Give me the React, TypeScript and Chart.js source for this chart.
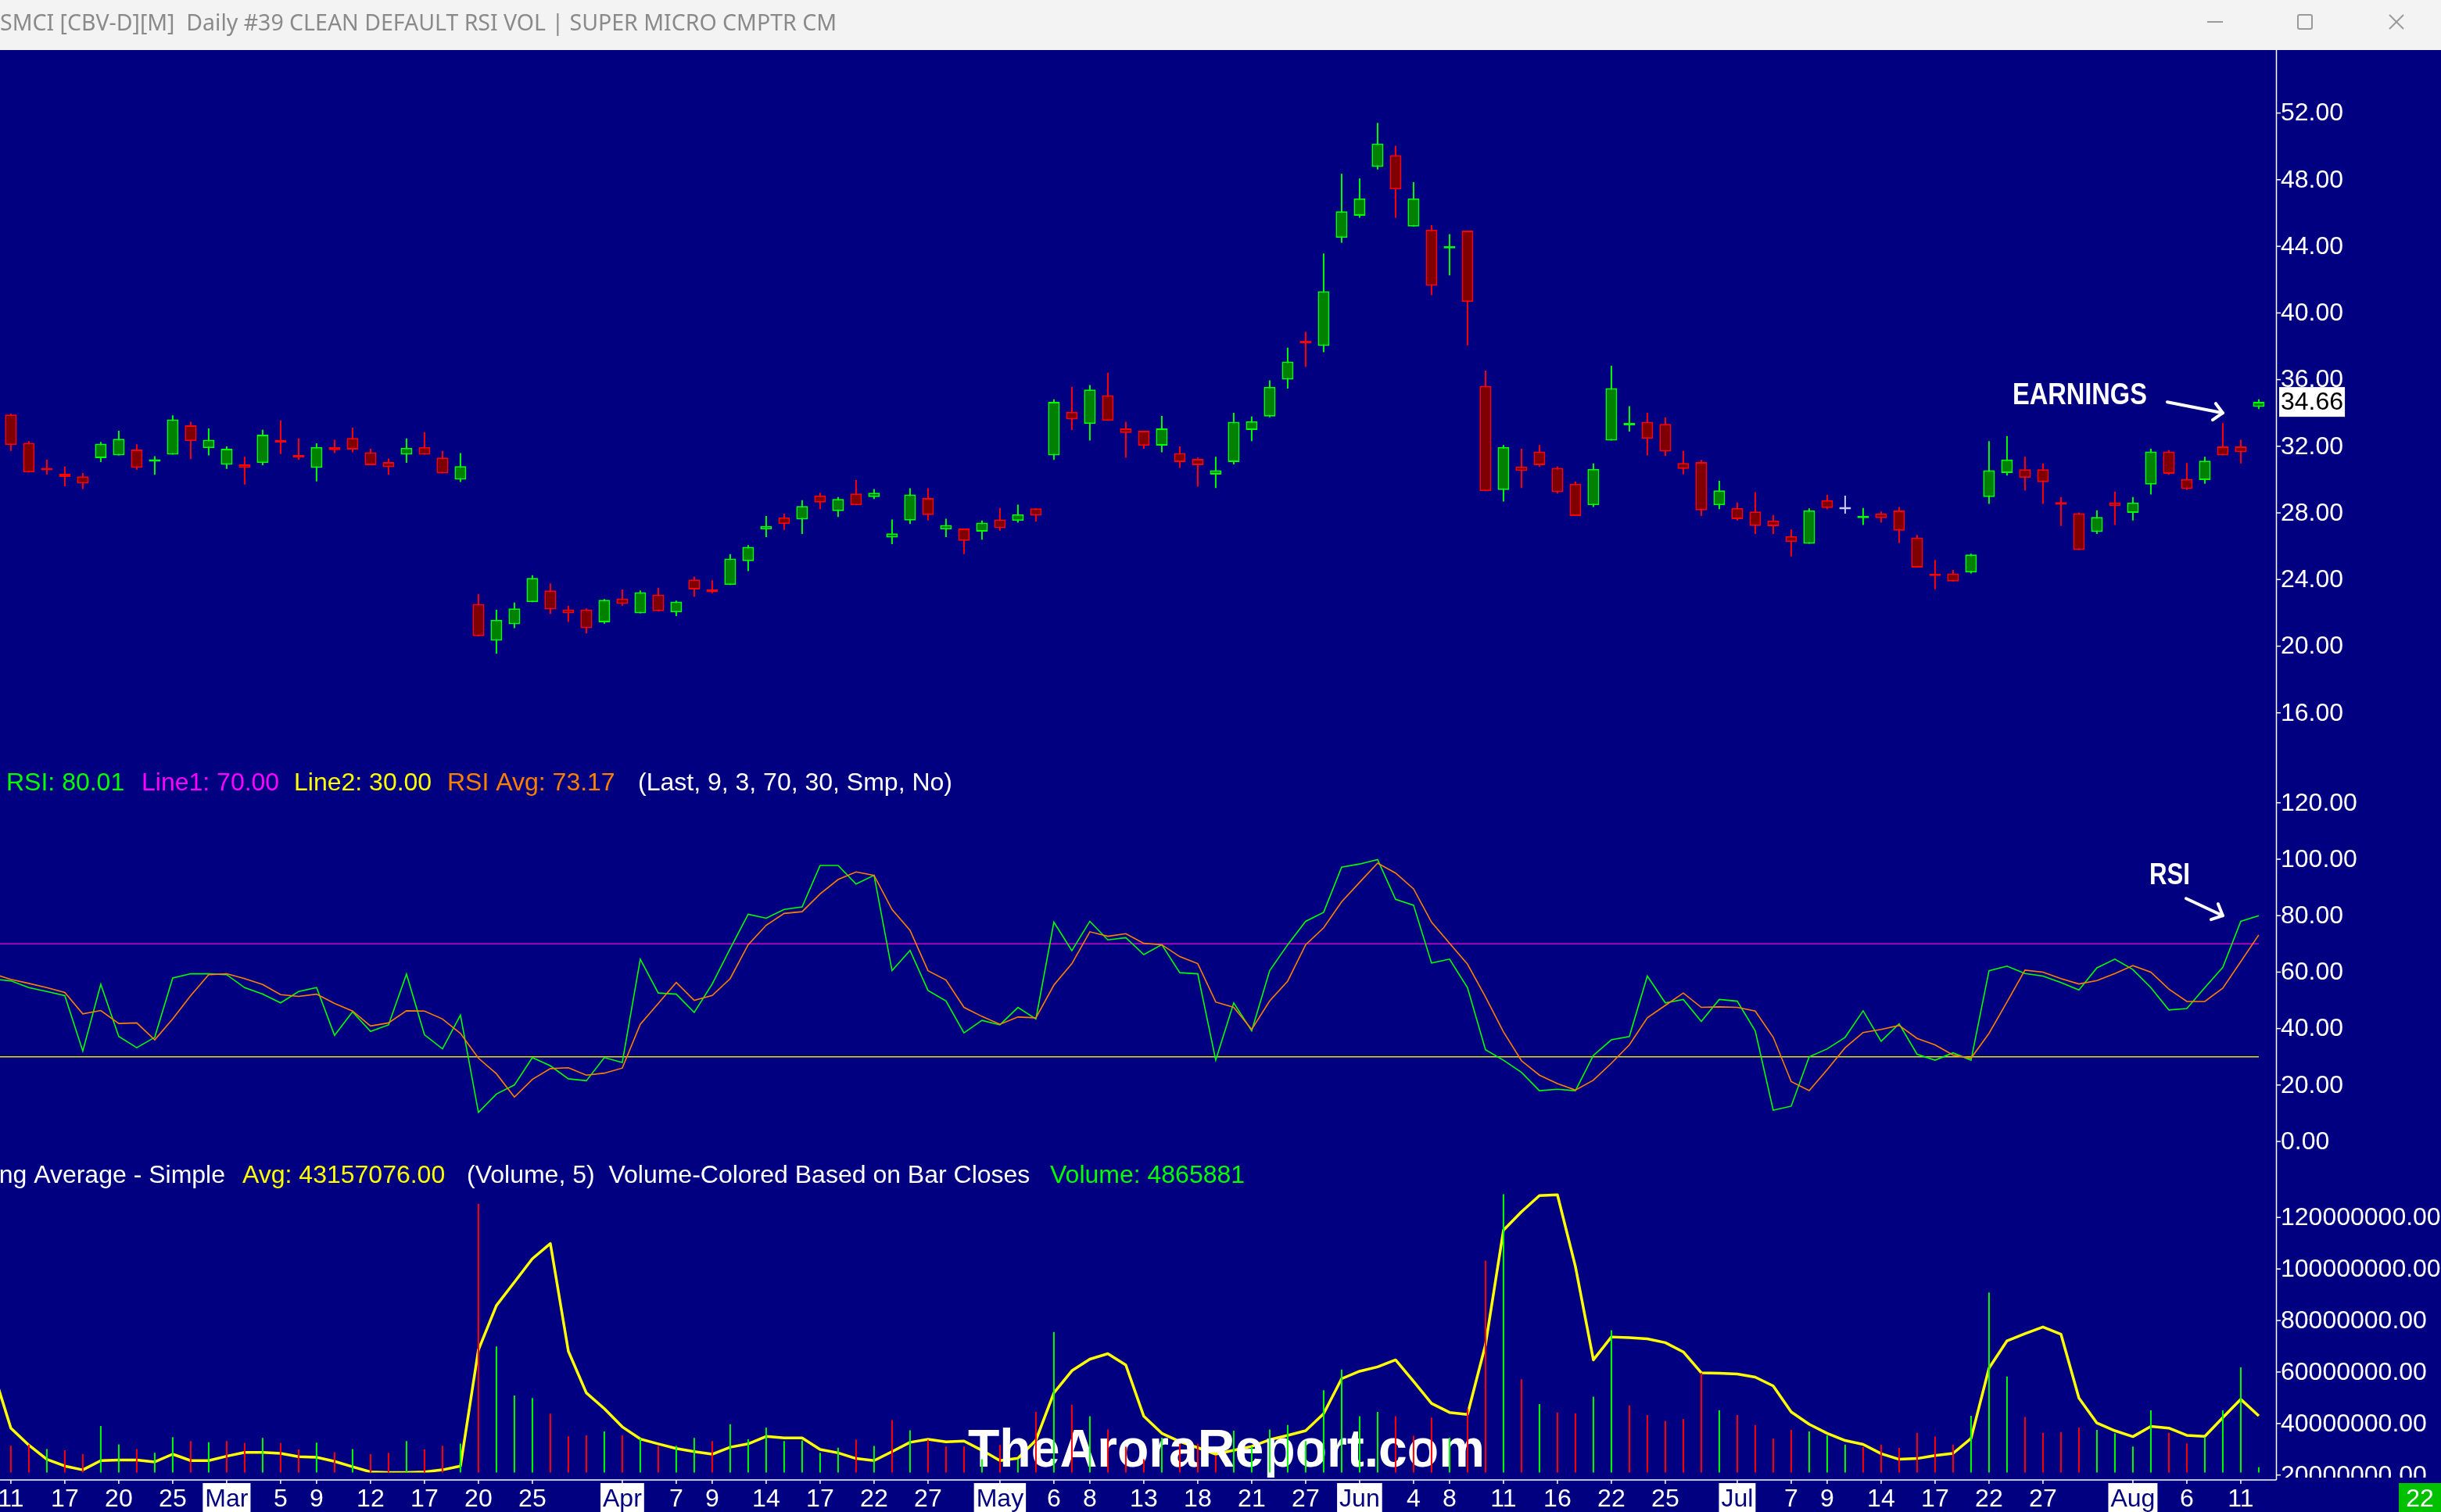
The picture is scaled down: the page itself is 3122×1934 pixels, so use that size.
import React, { useEffect, useRef } from 'react';
import { Chart, registerables } from 'chart.js';

Chart.register(...registerables);

// ---------------- data ----------------
const OPEN = [
  33.90, 32.20, 30.67, 30.35, 30.19, 31.29, 31.45, 31.80, 31.07, 31.50,
  33.26, 31.88, 30.89, 30.91, 30.99, 32.37, 31.48, 30.70, 31.94, 32.50,
  31.64, 31.05, 31.50, 31.96, 31.32, 30.00, 22.54, 20.33, 21.32, 22.64,
  23.34, 22.21, 22.21, 21.43, 22.86, 21.97, 23.10, 22.03, 24.00, 23.40,
  23.67, 25.10, 27.01, 27.73, 27.60, 29.05, 28.11, 29.16, 28.95, 26.52,
  27.54, 28.89, 27.01, 27.06, 26.87, 27.60, 27.52, 28.27, 31.45, 34.07,
  33.34, 35.06, 33.07, 32.93, 32.04, 31.59, 31.24, 30.30, 31.05, 32.98,
  33.79, 36.00, 38.32, 38.02, 44.51, 45.83, 48.77, 49.47, 45.19, 45.00,
  43.87, 44.94, 35.63, 29.38, 30.78, 31.69, 30.70, 29.75, 28.46, 32.34,
  33.26, 33.47, 33.34, 30.99, 31.05, 28.46, 28.30, 28.08, 27.55, 26.60,
  26.15, 28.76, 28.35, 27.68, 27.97, 28.14, 26.52, 24.34, 24.37, 24.42,
  28.95, 30.40, 30.62, 30.62, 28.65, 27.98, 26.85, 28.62, 28.00, 29.70,
  31.69, 30.03, 29.97, 31.99, 31.99, 34.36,
];
const HIGH = [
  33.95, 32.31, 31.20, 30.78, 30.40, 32.26, 32.93, 32.12, 31.40, 33.85,
  33.47, 33.07, 31.99, 31.37, 32.99, 33.55, 32.47, 32.18, 32.39, 33.12,
  31.85, 31.26, 32.47, 32.85, 31.72, 31.59, 23.13, 22.18, 22.62, 24.26,
  23.77, 22.43, 22.27, 22.83, 23.40, 23.34, 23.51, 22.73, 24.18, 23.96,
  25.53, 26.07, 27.81, 27.95, 28.76, 29.21, 28.95, 29.97, 29.43, 27.60,
  29.48, 29.48, 27.65, 27.06, 27.54, 28.30, 28.49, 28.27, 34.82, 35.57,
  35.68, 36.41, 33.47, 32.93, 33.82, 31.99, 31.32, 31.37, 34.01, 33.79,
  35.95, 37.91, 38.86, 43.57, 48.36, 48.07, 51.41, 50.03, 47.85, 45.27,
  44.73, 44.94, 36.54, 32.07, 31.85, 32.07, 30.78, 29.89, 30.97, 36.84,
  34.41, 34.01, 33.74, 31.72, 31.18, 29.92, 28.62, 29.24, 27.87, 27.01,
  28.27, 29.08, 29.03, 28.30, 28.08, 28.35, 26.68, 25.18, 24.58, 25.55,
  32.31, 32.61, 31.37, 30.97, 28.95, 28.03, 28.16, 29.27, 28.95, 31.85,
  31.77, 30.99, 31.37, 33.39, 32.39, 34.82,
];
const LOW = [
  31.72, 30.43, 30.30, 29.60, 29.43, 31.05, 31.45, 30.60, 30.29, 31.50,
  31.23, 31.45, 30.64, 29.70, 30.86, 31.53, 31.18, 29.89, 31.59, 31.64,
  30.86, 30.29, 31.00, 31.50, 30.37, 29.86, 20.60, 19.55, 21.08, 22.64,
  21.94, 21.46, 20.76, 21.35, 22.43, 21.97, 22.10, 21.81, 22.97, 23.18,
  23.67, 24.50, 26.55, 26.98, 26.74, 28.22, 27.76, 28.46, 28.84, 26.12,
  27.33, 27.54, 26.55, 25.53, 26.39, 26.93, 27.41, 27.47, 31.18, 32.98,
  32.34, 33.53, 31.32, 31.85, 31.64, 30.70, 29.57, 29.49, 30.91, 32.31,
  33.74, 35.46, 36.76, 37.64, 44.22, 45.72, 48.61, 45.72, 45.19, 41.07,
  42.25, 38.05, 29.30, 28.68, 29.49, 30.78, 29.16, 27.81, 28.35, 32.34,
  32.88, 31.45, 31.42, 30.32, 27.81, 28.22, 27.55, 26.74, 26.74, 25.39,
  26.15, 28.22, 27.95, 27.28, 27.41, 26.20, 24.72, 23.42, 23.88, 24.37,
  28.54, 30.24, 29.35, 28.54, 27.22, 25.77, 26.74, 27.28, 27.55, 29.11,
  30.29, 29.38, 29.75, 31.45, 30.97, 34.23,
];
const CLOSE = [
  32.07, 30.43, 30.56, 30.16, 29.76, 32.15, 32.45, 30.70, 31.15, 33.61,
  32.31, 32.39, 31.85, 30.70, 32.69, 32.23, 31.32, 31.96, 31.77, 31.80,
  30.86, 30.75, 31.91, 31.50, 30.37, 30.80, 20.60, 21.59, 22.27, 24.10,
  22.21, 21.97, 21.08, 22.78, 22.54, 23.24, 22.10, 22.67, 23.40, 23.24,
  25.26, 25.96, 27.22, 27.33, 28.41, 28.62, 28.84, 28.46, 29.21, 26.77,
  29.11, 27.87, 27.28, 26.33, 27.41, 27.09, 27.92, 27.84, 34.66, 33.61,
  35.41, 33.53, 32.80, 32.02, 33.07, 31.05, 30.86, 30.56, 33.47, 33.50,
  35.57, 37.08, 38.18, 41.31, 46.10, 46.88, 50.17, 47.42, 46.88, 41.63,
  44.00, 40.66, 29.30, 31.96, 30.51, 30.86, 29.24, 27.81, 30.64, 35.49,
  33.39, 32.45, 31.69, 30.64, 28.16, 29.35, 27.63, 27.22, 27.20, 26.25,
  28.16, 28.30, 28.35, 27.70, 27.68, 26.93, 24.72, 24.21, 23.88, 25.50,
  30.56, 31.21, 30.10, 29.84, 28.49, 25.77, 27.76, 28.41, 28.62, 31.69,
  30.35, 29.43, 31.13, 31.45, 31.64, 34.66,
];
// volume, millions of shares
const VOLUME_M = [
  31.4, 31.8, 30.1, 29.6, 28.1, 39.0, 31.9, 30.1, 28.6, 34.7,
  33.2, 32.7, 33.2, 32.4, 34.4, 32.4, 29.9, 32.6, 28.9, 30.1,
  28.1, 28.6, 33.2, 29.9, 31.4, 32.2, 125.3, 69.9, 50.9, 49.9,
  43.8, 35.0, 35.4, 36.9, 35.4, 34.2, 31.3, 31.3, 34.4, 33.2,
  39.7, 33.9, 38.4, 33.2, 33.4, 28.6, 30.6, 33.7, 31.3, 41.3,
  37.4, 33.7, 31.1, 31.1, 26.1, 31.7, 26.1, 44.5, 75.5, 47.3,
  42.8, 37.7, 31.0, 26.1, 34.5, 32.1, 32.1, 27.6, 37.2, 31.1,
  37.7, 39.4, 33.2, 52.9, 61.0, 42.8, 44.5, 42.8, 35.2, 42.3,
  34.5, 45.8, 103.2, 129.0, 57.2, 47.5, 44.3, 44.0, 50.4, 76.2,
  47.0, 43.3, 41.0, 41.8, 59.7, 45.1, 43.3, 39.4, 34.2, 37.5,
  36.9, 35.4, 31.8, 30.8, 31.8, 30.5, 36.4, 34.9, 31.8, 43.0,
  90.9, 58.2, 42.5, 36.4, 36.7, 38.4, 37.5, 36.2, 31.1, 45.1,
  36.4, 32.3, 34.7, 45.1, 61.8, 23.0,
];
// indicator series: first value belongs to the bar before the first visible candle
const SERIES_START = -1;
const RSI = [
  57.5,
  56.9, 54.5, 53.1, 51.7, 32.0, 55.7, 37.2, 33.2, 36.9, 57.9,
  59.4, 59.4, 59.1, 54.5, 52.2, 49.1, 53.1, 54.5, 37.6, 45.9,
  39.0, 41.3, 59.3, 37.8, 32.8, 44.8, 10.3, 16.8, 20.0, 29.7,
  26.8, 22.2, 21.5, 29.7, 28.0, 64.6, 52.6, 52.2, 45.7, 55.8,
  68.3, 80.5, 79.1, 82.2, 83.1, 97.8, 97.8, 91.2, 94.3, 60.5,
  67.7, 53.5, 49.8, 38.5, 42.9, 41.3, 47.5, 43.4, 77.7, 67.6,
  78.0, 71.4, 72.2, 66.2, 69.7, 59.8, 59.4, 28.8, 49.1, 39.2,
  60.5, 69.7, 78.0, 81.2, 97.2, 98.3, 99.9, 85.8, 83.7, 63.2,
  64.6, 54.5, 32.5, 28.8, 24.5, 18.0, 18.5, 18.0, 30.5, 36.0,
  37.2, 58.6, 49.1, 50.3, 42.5, 50.3, 49.7, 39.2, 11.1, 12.5,
  30.0, 32.8, 36.9, 46.3, 35.5, 41.7, 30.9, 28.8, 31.4, 28.8,
  60.5, 62.1, 59.5, 58.6, 56.3, 53.7, 61.5, 64.6, 60.9, 54.5,
  46.6, 47.1, 54.5, 61.7, 78.0, 80.01,
];
const RSI_AVG = [
  59.4,
  57.4, 56.0, 54.5, 52.8, 45.2, 46.4, 41.8, 42.0, 36.0, 43.4,
  51.7, 59.1, 59.4, 57.7, 55.6, 52.0, 51.4, 52.2, 48.9, 46.2,
  40.9, 42.0, 46.3, 46.2, 43.4, 38.3, 29.5, 24.0, 15.7, 22.0,
  25.8, 26.1, 23.5, 24.2, 26.0, 41.5, 48.9, 56.3, 50.0, 51.7,
  57.7, 69.7, 76.6, 80.8, 81.4, 87.7, 92.8, 95.5, 94.3, 82.2,
  74.8, 60.5, 57.2, 47.5, 44.3, 41.5, 44.1, 43.8, 55.4, 63.0,
  74.3, 72.7, 73.6, 70.2, 69.7, 65.5, 63.0, 49.4, 47.5, 39.7,
  49.8, 56.8, 69.7, 75.7, 84.9, 91.8, 98.6, 95.1, 89.5, 77.7,
  70.2, 62.8, 51.2, 38.8, 28.6, 23.5, 20.5, 18.2, 21.7, 27.7,
  34.2, 43.8, 48.2, 52.6, 47.5, 47.7, 47.5, 46.2, 36.9, 21.2,
  18.0, 25.4, 33.2, 38.6, 39.7, 41.1, 36.5, 34.2, 30.6, 29.5,
  38.3, 49.4, 60.7, 60.0, 57.7, 55.8, 57.0, 59.5, 62.3, 60.0,
  54.0, 49.6, 49.6, 54.3, 63.7, 73.17,
];
const VOL_MA_M = [
  60.7,
  38.2, 31.6, 26.1, 23.5, 22.0, 25.6, 25.8, 25.8, 25.1, 28.1,
  25.6, 25.6, 27.3, 28.8, 28.8, 28.4, 27.1, 26.9, 25.3, 23.2,
  21.2, 21.0, 21.0, 21.2, 22.0, 23.5, 68.6, 85.8, 94.9, 104.0,
  109.9, 68.1, 51.9, 45.8, 38.7, 34.0, 32.1, 30.3, 29.1, 28.1,
  30.8, 32.1, 35.0, 34.4, 34.4, 29.9, 28.6, 26.4, 25.6, 29.1,
  32.7, 33.9, 32.9, 33.2, 29.6, 25.6, 26.5, 33.5, 51.9, 60.5,
  65.0, 67.1, 62.7, 42.8, 36.2, 33.0, 30.6, 28.1, 29.6, 31.1,
  33.7, 35.4, 37.2, 43.8, 57.4, 60.3, 62.0, 64.7, 56.4, 47.8,
  44.3, 43.5, 70.6, 115.1, 122.2, 128.5, 128.8, 101.0, 64.7, 73.6,
  73.3, 72.9, 71.4, 67.8, 59.7, 59.5, 59.2, 58.0, 54.6, 44.5,
  39.7, 36.2, 33.4, 31.9, 28.3, 26.1, 26.4, 27.6, 28.4, 34.2,
  61.5, 72.1, 74.9, 77.5, 74.7, 49.9, 40.2, 37.2, 34.9, 38.9,
  38.2, 35.4, 35.0, 42.3, 49.4, 43.0,
];
const LINE1 = 70;
const LINE2 = 30;
const LAST_PRICE = 34.66;

const PRICE_TICKS = [16, 20, 24, 28, 32, 36, 40, 44, 48, 52];
const RSI_TICKS = [0, 20, 40, 60, 80, 100, 120];
const VOL_TICKS_M = [20, 40, 60, 80, 100, 120];

const X_TICK_INDEX = [0, 3, 6, 9, 12, 15, 17, 20, 23, 26, 29, 34, 37, 39, 42, 45, 48, 51, 55, 58, 60, 63, 66, 69, 72, 75, 78, 80, 83, 86, 89, 92, 96, 99, 101, 104, 107, 110, 113, 118, 121, 124];
const X_TICK_TEXT = ['11', '17', '20', '25', 'Mar', '5', '9', '12', '17', '20', '25', 'Apr', '7', '9', '14', '17', '22', '27', 'May', '6', '8', '13', '18', '21', '27', 'Jun', '4', '8', '11', '16', '22', '25', 'Jul', '7', '9', '14', '17', '22', '27', 'Aug', '6', '11'];
const MONTHS = ['Jan', 'Feb', 'Mar', 'Apr', 'May', 'Jun', 'Jul', 'Aug', 'Sep', 'Oct', 'Nov', 'Dec'];
const LAST_DATE_LABEL = '22';

const TITLE = 'SMCI [CBV-D][M]  Daily #39 CLEAN DEFAULT RSI VOL | SUPER MICRO CMPTR CM';
const RSI_LEGEND: [string, string][] = [
  ['RSI: 80.01', '#00ff00'],
  ['Line1: 70.00', '#ff00ff'],
  ['Line2: 30.00', '#ffff00'],
  ['RSI Avg: 73.17', '#ff8000'],
  ['(Last, 9, 3, 70, 30, Smp, No)', '#ffffff'],
];
const VOL_LEGEND: [string, string][] = [
  ['Moving Average - Simple', '#ffffff'],
  ['Avg: 43157076.00', '#ffff00'],
  ['(Volume, 5)  Volume-Colored Based on Bar Closes', '#ffffff'],
  ['Volume: 4865881', '#00ff00'],
];
const WATERMARK = 'TheAroraReport.com';

// ---------------- layout / style ----------------
const W = 3122;
const H = 1934;
const TITLE_H = 64;
const AXIS_X = 2911;
const PLOT_BOTTOM = 1883.5;
const BASE_Y = 1893;
const NAVY = '#000080';
const SANS = "'Liberation Sans', Arial, Helvetica, sans-serif";
const BULL_LINE = '#00ff00';
const BULL_FILL = '#008200';
const BEAR_LINE = '#ff0000';
const BEAR_FILL = '#800000';
const DOJI = '#c8c8ff';

function line(ctx: CanvasRenderingContext2D, x1: number, y1: number, x2: number, y2: number) {
  ctx.beginPath();
  ctx.moveTo(x1, y1);
  ctx.lineTo(x2, y2);
  ctx.stroke();
}

function fitText(ctx: CanvasRenderingContext2D, text: string, x: number, y: number, width: number) {
  const w = ctx.measureText(text).width;
  ctx.save();
  ctx.translate(x, y);
  ctx.scale(width / w, 1);
  ctx.fillText(text, 0, 0);
  ctx.restore();
}

function arrow(ctx: CanvasRenderingContext2D, tx: number, ty: number, sx: number, sy: number, a1: [number, number], a2: [number, number]) {
  ctx.save();
  ctx.strokeStyle = '#ffffff';
  ctx.lineWidth = 4;
  ctx.lineCap = 'round';
  ctx.lineJoin = 'round';
  line(ctx, tx + sx, ty + sy, tx, ty);
  ctx.beginPath();
  ctx.moveTo(tx + a1[0], ty + a1[1]);
  ctx.lineTo(tx, ty);
  ctx.lineTo(tx + a2[0], ty + a2[1]);
  ctx.stroke();
  ctx.restore();
}

export default function App() {
  const ref = useRef<HTMLCanvasElement>(null);

  useEffect(() => {
    document.body.style.margin = '0';
    document.body.style.overflow = 'hidden';
    const canvas = ref.current;
    if (!canvas) return;

    const idx = OPEN.map((_, i) => i);
    const lineColor = (i: number) => (CLOSE[i] > OPEN[i] ? BULL_LINE : CLOSE[i] < OPEN[i] ? BEAR_LINE : DOJI);
    const fillColor = (i: number) => (CLOSE[i] > OPEN[i] ? BULL_FILL : CLOSE[i] < OPEN[i] ? BEAR_FILL : DOJI);
    const volUp = (i: number) => (i === 0 ? CLOSE[0] >= OPEN[0] : CLOSE[i] >= CLOSE[i - 1]);
    const series = (arr: number[]) => arr.map((v, k) => ({ x: k + SERIES_START, y: v }));
    const level = (v: number) => RSI.map((_, k) => ({ x: k + SERIES_START, y: v }));

    const VOL_DS = 6;

    const decor = {
      id: 'decor',
      beforeDraw(chart: any) {
        const ctx: CanvasRenderingContext2D = chart.ctx;
        ctx.save();
        ctx.fillStyle = NAVY;
        ctx.fillRect(0, 0, W, H);
        // title bar
        ctx.fillStyle = '#f3f3f3';
        ctx.fillRect(0, 0, W, TITLE_H);
        ctx.fillStyle = '#8a8a8a';
        ctx.font = "29px 'Noto Sans', 'Open Sans', sans-serif";
        ctx.textBaseline = 'alphabetic';
        ctx.textAlign = 'left';
        fitText(ctx, TITLE, 0, 39, 1070);
        ctx.strokeStyle = '#9a9a9a';
        ctx.lineWidth = 2;
        line(ctx, 2823, 28, 2843, 28);
        ctx.beginPath();
        ctx.roundRect(2939, 19, 18, 18, 2);
        ctx.stroke();
        line(ctx, 3056, 19, 3074, 37);
        line(ctx, 3074, 19, 3056, 37);
        ctx.restore();
      },
      beforeDatasetDraw(chart: any, args: any) {
        if (args.index !== VOL_DS) return;
        const ctx: CanvasRenderingContext2D = chart.ctx;
        ctx.save();
        ctx.fillStyle = '#ffffff';
        ctx.font = `bold 68px ${SANS}`;
        ctx.textBaseline = 'alphabetic';
        ctx.textAlign = 'left';
        fitText(ctx, WATERMARK, 1238, 1876, 661);
        ctx.restore();
      },
      afterDatasetsDraw(chart: any) {
        const ctx: CanvasRenderingContext2D = chart.ctx;
        const xs = chart.scales.x;
        const yp = chart.scales.yPrice;
        const yr = chart.scales.yRsi;
        const yv = chart.scales.yVol;
        ctx.save();
        // frame lines
        ctx.strokeStyle = '#ffffff';
        ctx.lineWidth = 1.5;
        line(ctx, AXIS_X + 0.5, TITLE_H, AXIS_X + 0.5, BASE_Y);
        line(ctx, 0, BASE_Y, AXIS_X + 0.5, BASE_Y);

        // right axis labels
        ctx.save();
        ctx.beginPath();
        ctx.rect(AXIS_X, TITLE_H, W - AXIS_X, 1890 - TITLE_H);
        ctx.clip();
        ctx.font = `32px ${SANS}`;
        ctx.textAlign = 'left';
        ctx.textBaseline = 'middle';
        ctx.fillStyle = '#ffffff';
        const axisLabels = (scale: any, ticks: number[], fmt: (v: number) => string) => {
          ticks.forEach((v) => {
            const y = scale.getPixelForValue(v);
            line(ctx, AXIS_X, y, AXIS_X + 6, y);
            ctx.fillText(fmt(v), AXIS_X + 6, y + 1);
          });
        };
        axisLabels(yp, PRICE_TICKS, (v) => v.toFixed(2));
        axisLabels(yr, RSI_TICKS, (v) => v.toFixed(2));
        axisLabels(yv, VOL_TICKS_M, (v) => (v * 1e6).toFixed(2));
        // last price box
        const lp = yp.getPixelForValue(LAST_PRICE);
        const lpText = LAST_PRICE.toFixed(2);
        const lpw = ctx.measureText(lpText).width;
        ctx.fillStyle = '#ffffff';
        ctx.fillRect(AXIS_X + 4, lp - 19, lpw + 4, 38);
        ctx.fillStyle = '#000000';
        ctx.fillText(lpText, AXIS_X + 6, lp + 1);
        ctx.restore();

        // x axis labels
        ctx.font = `32px ${SANS}`;
        ctx.textAlign = 'center';
        ctx.textBaseline = 'alphabetic';
        X_TICK_INDEX.forEach((ix, k) => {
          const x = xs.getPixelForValue(ix);
          const t = X_TICK_TEXT[k];
          ctx.strokeStyle = '#ffffff';
          line(ctx, x, BASE_Y, x, BASE_Y + 5);
          if (MONTHS.includes(t)) {
            const w = ctx.measureText(t).width;
            ctx.fillStyle = '#ffffff';
            ctx.fillRect(x - w / 2 - 3, BASE_Y + 4, w + 6, H - BASE_Y - 4);
            ctx.fillStyle = NAVY;
          } else {
            ctx.fillStyle = '#ffffff';
          }
          ctx.fillText(t, x, 1927);
        });
        ctx.fillStyle = '#00c000';
        ctx.fillRect(3068, BASE_Y + 4, W - 3068, H - BASE_Y - 4);
        ctx.fillStyle = '#ffffff';
        ctx.fillText(LAST_DATE_LABEL, 3095, 1927);

        // panel legends
        ctx.textAlign = 'left';
        ctx.font = `32px ${SANS}`;
        const rsiX = [8, 181, 376, 572, 816];
        RSI_LEGEND.forEach(([t, c], k) => {
          ctx.fillStyle = c;
          ctx.fillText(t, rsiX[k], 1011);
        });
        const volX = [288, 310, 597, 1343];
        VOL_LEGEND.forEach(([t, c], k) => {
          ctx.fillStyle = c;
          ctx.textAlign = k === 0 ? 'right' : 'left';
          ctx.fillText(t, volX[k], 1513);
        });
        ctx.textAlign = 'left';

        // annotations
        ctx.fillStyle = '#ffffff';
        ctx.font = `bold 39px ${SANS}`;
        const ex = xs.getPixelForValue(123);
        const ey = yp.getPixelForValue(34.0);
        fitText(ctx, 'EARNINGS', ex - 269, ey - 11, 172);
        arrow(ctx, ex, ey, -71, -14, [-9, -12], [-13, 9]);
        const rx = xs.getPixelForValue(123);
        const ry = yr.getPixelForValue(80);
        fitText(ctx, 'RSI', rx - 94, ry - 40, 52);
        arrow(ctx, rx, ry, -47, -22, [-6, -15], [-15, 5]);
        ctx.restore();
      },
    };

    const chart = new Chart(canvas, {
      type: 'bar',
      data: {
        datasets: [
          {
            type: 'bar',
            label: 'bodies',
            data: idx.map((i) => ({ x: i, y: [OPEN[i], CLOSE[i]] })) as any,
            yAxisID: 'yPrice',
            backgroundColor: idx.map(fillColor),
            borderColor: idx.map(lineColor),
            borderWidth: 2,
            borderSkipped: false,
            barThickness: 15,
            minBarLength: 3,
            grouped: false,
            inflateAmount: 0,
            order: 1,
          } as any,
          {
            type: 'bar',
            label: 'wicks',
            data: idx.map((i) => ({ x: i, y: [LOW[i], HIGH[i]] })) as any,
            yAxisID: 'yPrice',
            backgroundColor: idx.map(lineColor),
            borderWidth: 0,
            barThickness: 2,
            grouped: false,
            inflateAmount: 0,
            order: 2,
          } as any,
          {
            type: 'line',
            label: 'RSI Avg',
            data: series(RSI_AVG),
            yAxisID: 'yRsi',
            borderColor: '#ff8000',
            borderWidth: 1.6,
            pointRadius: 0,
            tension: 0,
            order: 4,
          },
          {
            type: 'line',
            label: 'RSI',
            data: series(RSI),
            yAxisID: 'yRsi',
            borderColor: '#00ff00',
            borderWidth: 1.6,
            pointRadius: 0,
            tension: 0,
            order: 5,
          },
          {
            type: 'line',
            label: 'Line1',
            data: level(LINE1),
            yAxisID: 'yRsi',
            borderColor: '#cc00cc',
            borderWidth: 1.4,
            pointRadius: 0,
            order: 7,
          },
          {
            type: 'line',
            label: 'Line2',
            data: level(LINE2),
            yAxisID: 'yRsi',
            borderColor: '#e6e600',
            borderWidth: 1.3,
            pointRadius: 0,
            order: 7,
          },
          {
            type: 'bar',
            label: 'Volume',
            data: idx.map((i) => ({ x: i, y: VOLUME_M[i] })) as any,
            yAxisID: 'yVol',
            backgroundColor: idx.map((i) => (volUp(i) ? '#00ff00' : '#ff0000')),
            borderWidth: 0,
            barThickness: 2,
            grouped: false,
            inflateAmount: 0,
            order: 8,
          } as any,
          {
            type: 'line',
            label: 'Volume MA',
            data: series(VOL_MA_M),
            yAxisID: 'yVol',
            borderColor: '#ffff00',
            borderWidth: 3.5,
            borderJoinStyle: 'round',
            pointRadius: 0,
            tension: 0,
            order: 9,
          },
        ],
      },
      options: {
        responsive: false,
        animation: false,
        events: [],
        layout: {
          autoPadding: false,
          padding: { left: 0, top: TITLE_H, right: W - AXIS_X, bottom: H - PLOT_BOTTOM },
        },
        plugins: {
          legend: { display: false },
          tooltip: { enabled: false },
        },
        scales: {
          x: { type: 'linear', display: false, offset: false, bounds: 'data', min: -0.604, max: 125.96 },
          yPrice: { type: 'linear', display: false, bounds: 'data', min: -29.6, max: 55.782 },
          yRsi: { type: 'linear', display: false, bounds: 'data', min: -117.3, max: 386.7 },
          yVol: { type: 'linear', display: false, bounds: 'data', min: 20.97, max: 573.3 },
        } as any,
      },
      plugins: [decor],
    });

    return () => chart.destroy();
  }, []);

  return <canvas ref={ref} width={W} height={H} style={{ display: 'block', width: W, height: H }} />;
}
